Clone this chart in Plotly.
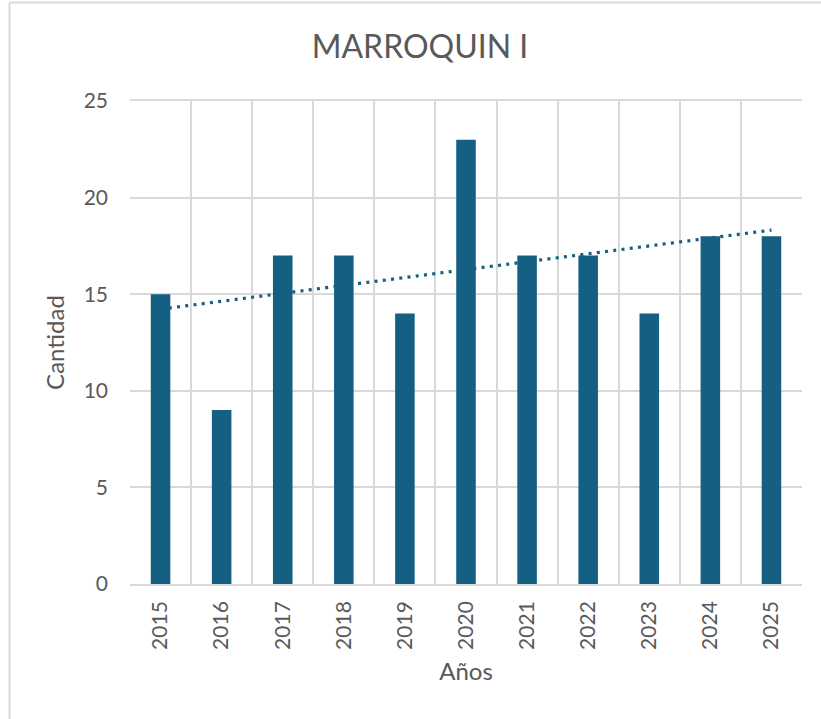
import numpy as np
import plotly.graph_objects as go

years = ["2015", "2016", "2017", "2018", "2019", "2020", "2021", "2022", "2023", "2024", "2025"]
cantidad = [15, 9, 17, 17, 14, 23, 17, 17, 14, 18, 18]
title_text = "MARROQUIN I"
x_title = "Años"
y_title = "Cantidad"

BAR = "#156082"
GRID = "#d9d9d9"
TXT = "#595959"
FONT = "Lato, 'Open Sans', sans-serif"

# linear trendline (least squares) like Excel
idx = np.arange(1, len(cantidad) + 1)
slope, intercept = np.polyfit(idx, cantidad, 1)
trend = slope * idx + intercept

W, H = 821, 719
ml, mr, mt, mb = 130, 19, 101, 135
pw, ph = W - ml - mr, H - mt - mb

fig = go.Figure()
fig.add_trace(go.Bar(x=years, y=cantidad, marker=dict(color=BAR, line=dict(width=0)),
                     width=0.32, showlegend=False, hoverinfo="x+y"))
fig.add_trace(go.Scatter(x=years, y=trend, mode="lines",
                         line=dict(color=BAR, width=3.2, dash="3px,5.3px"),
                         showlegend=False, hoverinfo="skip"))

def px2x(px):
    return (px - ml) / pw

def py2y(py):
    return (H - mb - py) / ph

fig.update_layout(
    width=W, height=H,
    margin=dict(l=ml, r=mr, t=mt, b=mb, autoexpand=False),
    paper_bgcolor="white", plot_bgcolor="white",
    font=dict(family=FONT, color=TXT, size=21),
    title=dict(text=title_text, x=420 / W, xanchor="center", xref="container",
               y=1 - 47 / H, yanchor="middle", yref="container",
               font=dict(family=FONT, size=32, color=TXT)),
    xaxis=dict(type="category", tickson="boundaries", showgrid=True, gridcolor=GRID, gridwidth=1.5,
               showline=True, linecolor=GRID, linewidth=1.5, mirror=True,
               ticks="", tickangle=-90, ticklabelstandoff=7,
               tickfont=dict(size=21, color=TXT),
               title=dict(text=x_title, standoff=14, font=dict(size=24, color=TXT)),
               range=[-0.5, len(years) - 0.5], fixedrange=True),
    yaxis=dict(range=[0, 25], dtick=5, showgrid=True, gridcolor=GRID, gridwidth=1.5,
               zeroline=False, showline=False, ticks="", ticklabelstandoff=21,
               tickfont=dict(size=21, color=TXT),
               title=dict(text=y_title, standoff=12, font=dict(size=24, color=TXT)),
               fixedrange=True),
    bargap=0.68,
    shapes=[
        dict(type="line", xref="paper", yref="paper", x0=px2x(9.5), x1=px2x(W + 5),
             y0=py2y(2.5), y1=py2y(2.5), line=dict(color=GRID, width=2), layer="below"),
        dict(type="line", xref="paper", yref="paper", x0=px2x(9.5), x1=px2x(9.5),
             y0=py2y(2.5), y1=py2y(H + 5), line=dict(color=GRID, width=2), layer="below"),
    ],
)

fig.write_html("out.html", config={"displayModeBar": False},
               post_script="document.body.style.margin='0';document.body.style.overflow='hidden';")
